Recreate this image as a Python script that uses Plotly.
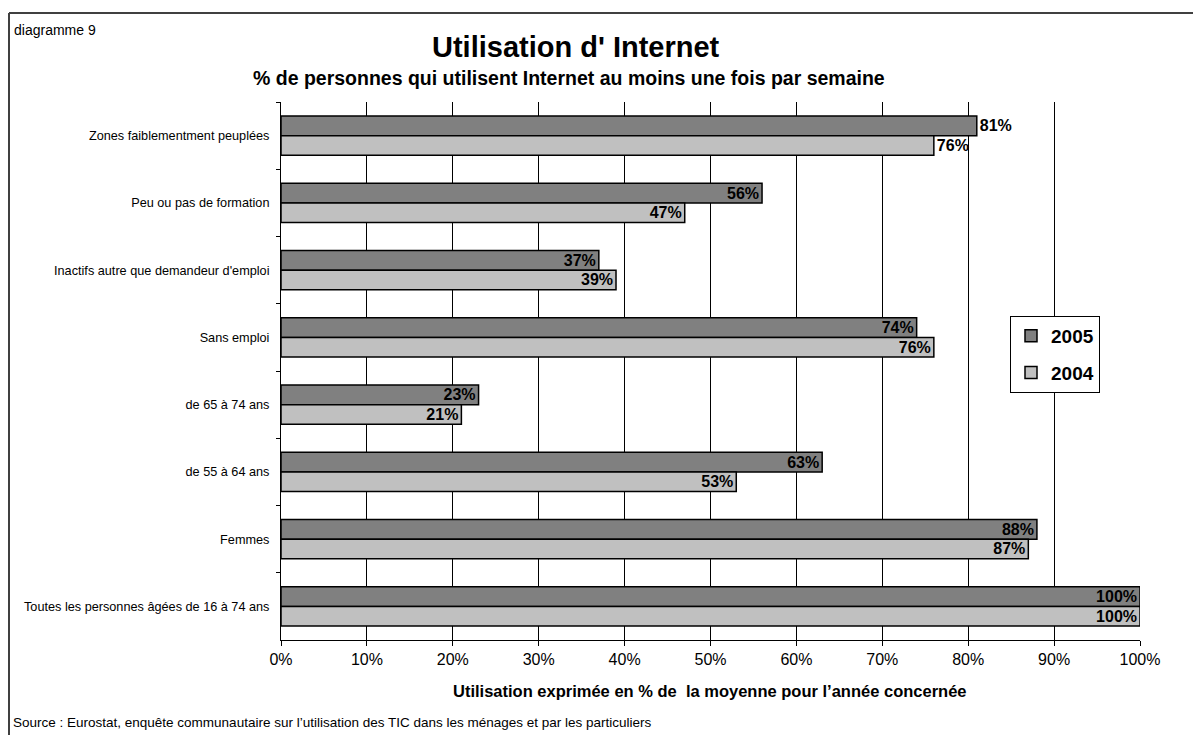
import plotly.graph_objects as go

# Categories (top to bottom) and values in % of the yearly average
categories = [
    "Zones faiblementment peuplées",
    "Peu ou pas de formation",
    "Inactifs autre que demandeur d'emploi",
    "Sans emploi",
    "de 65 à 74 ans",
    "de 55 à 64 ans",
    "Femmes",
    "Toutes les personnes âgées de 16 à 74 ans",
]
values_2005 = [81, 56, 37, 74, 23, 63, 88, 100]
values_2004 = [76, 47, 39, 76, 21, 53, 87, 100]
label_pos_2005 = ["outside", "inside", "inside", "inside", "inside", "inside", "inside", "inside"]
label_pos_2004 = ["outside", "inside", "inside", "inside", "inside", "inside", "inside", "inside"]
tick_vals = [0, 10, 20, 30, 40, 50, 60, 70, 80, 90, 100]
tick_text = [f"{v}%" for v in tick_vals]

W, H = 1193, 735
L, R, T, B = 281, 53, 102, 95
PW, PH = W - L - R, H - T - B


def px(x):
    return (x - L) / PW


def py(y):
    return (H - B - y) / PH


FONT = "Liberation Sans, Arial, sans-serif"

fig = go.Figure()
fig.add_trace(go.Bar(
    name="2005", y=categories, x=values_2005, orientation="h",
    marker=dict(color="#808080", line=dict(color="#000000", width=1.5)),
    text=[f"{v}%" for v in values_2005], textposition=label_pos_2005,
    insidetextanchor="end", textangle=0, constraintext="none",
    textfont=dict(family=FONT, size=16, color="#000000", weight="bold"),
    legendgroup="a",
))
fig.add_trace(go.Bar(
    name="2004", y=categories, x=values_2004, orientation="h",
    marker=dict(color="#c0c0c0", line=dict(color="#000000", width=1.5)),
    text=[f"{v}%" for v in values_2004], textposition=label_pos_2004,
    insidetextanchor="end", textangle=0, constraintext="none",
    textfont=dict(family=FONT, size=16, color="#000000", weight="bold"),
    legendgroup="b",
))

annotations = [
    dict(text="diagramme 9", x=px(12), y=py(30), xanchor="left", yanchor="middle",
         font=dict(family=FONT, size=14, color="#000000")),
    dict(text="<b>Utilisation d' Internet</b>", x=px(576), y=py(47), xanchor="center", yanchor="middle",
         font=dict(family=FONT, size=29, color="#000000")),
    dict(text="<b>% de personnes qui utilisent Internet au moins une fois par semaine</b>",
         x=px(569), y=py(78), xanchor="center", yanchor="middle",
         font=dict(family=FONT, size=19.5, color="#000000")),
    dict(text="<b>Utilisation exprimée en % de  la moyenne pour l\u2019année concernée</b>",
         x=px(710), y=py(691), xanchor="center", yanchor="middle",
         font=dict(family=FONT, size=16.5, color="#000000")),
    dict(text="Source : Eurostat, enquête communautaire sur l\u2019utilisation des TIC dans les ménages et par les particuliers",
         x=px(11), y=py(722), xanchor="left", yanchor="middle",
         font=dict(family=FONT, size=13.5, color="#000000")),
]
for a in annotations:
    a.update(xref="paper", yref="paper", showarrow=False)

shapes = [
    dict(type="line", xref="paper", yref="paper", x0=px(9), x1=px(W + 5), y0=py(13), y1=py(13),
         line=dict(color="#404040", width=2)),
    dict(type="line", xref="paper", yref="paper", x0=px(9), x1=px(9), y0=py(13), y1=py(H + 5),
         line=dict(color="#404040", width=2)),
]

fig.update_layout(
    width=W, height=H,
    margin=dict(l=L, r=R, t=T, b=B, pad=0),
    paper_bgcolor="#ffffff", plot_bgcolor="#ffffff",
    barmode="group", bargap=0.42, bargroupgap=0,
    font=dict(family=FONT, color="#000000"),
    showlegend=True,
    legend=dict(
        x=px(1010), y=py(316), xanchor="left", yanchor="top",
        bordercolor="#000000", borderwidth=1, bgcolor="#ffffff",
        font=dict(family=FONT, size=19, color="#000000", weight="bold"),
        tracegroupgap=9, traceorder="grouped",
        itemwidth=30,
    ),
    xaxis=dict(
        range=[0, 100], tickvals=tick_vals, ticktext=tick_text,
        showgrid=True, gridcolor="#000000", gridwidth=1,
        zeroline=False, showline=True, linecolor="#000000", linewidth=1,
        ticks="outside", ticklen=5, tickcolor="#000000",
        tickfont=dict(family=FONT, size=16, color="#000000"),
        fixedrange=True,
    ),
    yaxis=dict(
        autorange="reversed", type="category",
        showline=True, linecolor="#000000", linewidth=1,
        ticks="outside", ticklen=4, tickcolor="#000000", tickson="boundaries",
        tickfont=dict(family=FONT, size=12.7, color="#000000"),
        ticklabelstandoff=8,
        showgrid=False, fixedrange=True,
    ),
    annotations=annotations,
    shapes=shapes,
)

fig.write_html("out.html")
